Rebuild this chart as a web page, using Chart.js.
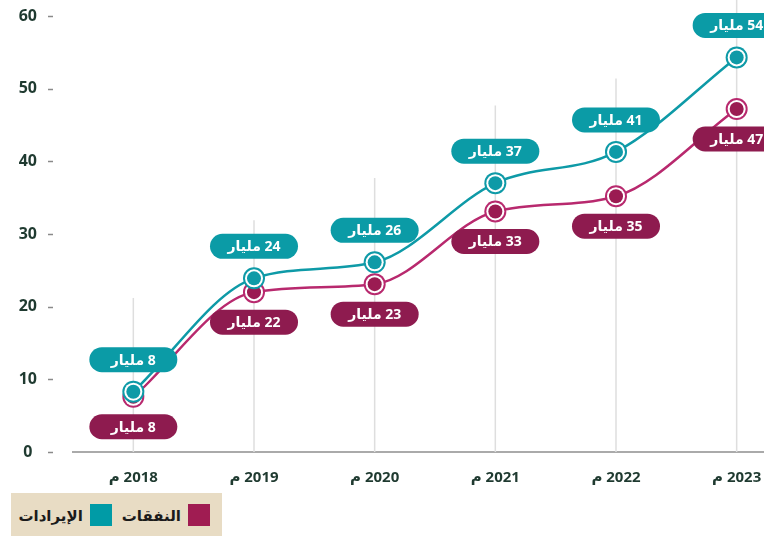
<!DOCTYPE html>
<html lang="ar">
<head>
<meta charset="utf-8">
<script src="https://cdn.jsdelivr.net/npm/chart.js@4.4.1/dist/chart.umd.min.js"></script>
<style>
  html, body { margin: 0; padding: 0; background: #fff; }
  body { width: 764px; height: 536px; overflow: hidden; position: relative; }
  #wrap { position: absolute; left: 0; top: 0; width: 800px; height: 490px; }
  canvas { direction: rtl; }
  #legend {
    position: absolute; left: 11px; top: 493px; width: 211px; height: 43px;
    background: #e8dcc4; direction: rtl; display: flex; align-items: center;
    box-sizing: border-box; padding-right: 12px;
    font: bold 15px "Noto Sans", "DejaVu Sans", sans-serif; color: #1b1b1b;
  }
  #legend .sw { width: 22px; height: 22px; display: inline-block; margin-left: 7px; }
  #legend .item { display: flex; align-items: center; margin-left: 10px; }
</style>
</head>
<body>
<div id="wrap"><canvas id="c" width="800" height="490"></canvas></div>
<div id="legend">
  <span class="item"><span class="sw" style="background:#a01c52"></span>النفقات</span>
  <span class="item"><span class="sw" style="background:#009ba6"></span>الإيرادات</span>
</div>
<script>
// البيانات
const years = ['2018 م', '2019 م', '2020 م', '2021 م', '2022 م', '2023 م'];
const revenue = [8.3, 23.9, 26.1, 37.0, 41.3, 54.3];   // الإيرادات (فيروزي)
const expenses = [7.6, 22.0, 23.1, 33.1, 35.2, 47.2];  // النفقات (عنابي)
const gridTop = [21.2, 31.9, 37.7, 47.7, 51.4, 63];   // ارتفاع الخطوط الرأسية

const TEAL = '#0e9aa7';
const TEAL_LABEL = '#0b9ba6';
const PINK = '#b8296e';
const MAROON = '#9b1b52';
const MAROON_LABEL = '#8e1b4f';
const FONT = '"Noto Sans", "DejaVu Sans", sans-serif';
const TEXT = '#1f3a30';

/**
 * خطوط الشبكة الرأسية الجزئية
 */
const gridPlugin = {
  id: 'partialGrid',
  beforeDatasetsDraw(chart) {
    const { ctx, scales: { x, y }, chartArea } = chart;
    ctx.save();
    ctx.strokeStyle = '#dedede';
    ctx.lineWidth = 1.5;
    gridTop.forEach((v, i) => {
      const px = x.getPixelForValue(i);
      ctx.beginPath();
      ctx.moveTo(px, y.getPixelForValue(v));
      ctx.lineTo(px, chartArea.bottom);
      ctx.stroke();
    });
    ctx.restore();
  },
  afterDraw(chart) {
    // شرطات صغيرة بجانب أرقام المحور الرأسي
    const { ctx, scales: { y } } = chart;
    ctx.save();
    ctx.strokeStyle = '#8a8a8a';
    ctx.lineWidth = 1.5;
    y.ticks.forEach(t => {
      const py = Math.round(y.getPixelForValue(t.value)) + 0.5;
      ctx.beginPath();
      ctx.moveTo(y.right - 25, py);
      ctx.lineTo(y.right - 20, py);
      ctx.stroke();
    });
    ctx.restore();
  },
};

function pill(ctx, cx, cy, w, h, color, text) {
  const r = h / 2;
  ctx.beginPath();
  ctx.moveTo(cx - w / 2 + r, cy - r);
  ctx.lineTo(cx + w / 2 - r, cy - r);
  ctx.arc(cx + w / 2 - r, cy, r, -Math.PI / 2, Math.PI / 2);
  ctx.lineTo(cx - w / 2 + r, cy + r);
  ctx.arc(cx - w / 2 + r, cy, r, Math.PI / 2, Math.PI * 1.5);
  ctx.closePath();
  ctx.fillStyle = color;
  ctx.fill();
  ctx.fillStyle = '#fff';
  ctx.font = 'bold 14px ' + FONT;
  ctx.textAlign = 'center';
  ctx.textBaseline = 'middle';
  ctx.direction = 'rtl';
  ctx.fillText(text, cx, cy + 1);
}

/**
 * التسميات والنقاط
 */
const markPlugin = {
  id: 'marks',
  afterDatasetsDraw(chart) {
    const { ctx } = chart;
    const series = [
      { idx: 2, values: expenses, label: MAROON_LABEL, ring: PINK, fill: MAROON, dy: 30 },
      { idx: 0, values: revenue, label: TEAL_LABEL, ring: TEAL, fill: TEAL, dy: -32 },
    ];
    ctx.save();
    series.forEach(s => {
      chart.getDatasetMeta(s.idx).data.forEach((pt, i) => {
        pill(ctx, pt.x, pt.y + s.dy, 88, 25, s.label, Math.round(s.values[i]) + ' مليار');
      });
    });
    series.forEach(s => {
      chart.getDatasetMeta(s.idx).data.forEach(pt => {
        ctx.beginPath(); ctx.arc(pt.x, pt.y, 11, 0, Math.PI * 2); ctx.fillStyle = s.ring; ctx.fill();
        ctx.beginPath(); ctx.arc(pt.x, pt.y, 9, 0, Math.PI * 2); ctx.fillStyle = '#fff'; ctx.fill();
        ctx.beginPath(); ctx.arc(pt.x, pt.y, 7, 0, Math.PI * 2); ctx.fillStyle = s.fill; ctx.fill();
      });
    });
    ctx.restore();
  },
};

const lineBase = {
  pointRadius: 0,
  pointHoverRadius: 0,
  fill: false,
  cubicInterpolationMode: 'monotone',
};

new Chart(document.getElementById('c'), {
  type: 'line',
  data: {
    labels: years,
    datasets: [
      { ...lineBase, label: 'الإيرادات', data: revenue, borderColor: TEAL, borderWidth: 2.5, order: 0 },
      { ...lineBase, label: 'halo1', data: revenue, borderColor: '#fff', borderWidth: 6, order: 1 },
      { ...lineBase, label: 'النفقات', data: expenses, borderColor: PINK, borderWidth: 2.5, order: 2 },
      { ...lineBase, label: 'halo2', data: expenses, borderColor: '#fff', borderWidth: 6, order: 3 },
    ],
  },
  options: {
    responsive: false,
    devicePixelRatio: 1,
    animation: false,
    layout: { padding: { top: 16, right: 3, left: 0, bottom: 0 } },
    plugins: {
      legend: { display: false },
      tooltip: { enabled: false },
    },
    scales: {
      x: {
        offset: true,
        grid: { display: false, drawTicks: false },
        border: { display: true, color: '#aaaaaa', width: 2 },
        ticks: {
          padding: 17,
          autoSkip: false,
          maxRotation: 0,
          color: TEXT,
          font: { family: FONT, size: 15, weight: 'bold' },
        },
        afterFit: s => { s.height = 38; },
      },
      y: {
        min: 0,
        max: 60,
        grid: { display: false, drawTicks: false },
        border: { display: false },
        ticks: {
          stepSize: 10,
          padding: 36,
          crossAlign: 'center',
          color: TEXT,
          font: { family: FONT, size: 16, weight: 'bold' },
        },
        // padding الكبير للأرقام لا يجب أن يقلص ارتفاع منطقة الرسم
        afterFit: s => { s.width = 73; s.paddingTop = 0; s.paddingBottom = 0; },
      },
    },
  },
  plugins: [gridPlugin, markPlugin],
});
</script>
</body>
</html>
